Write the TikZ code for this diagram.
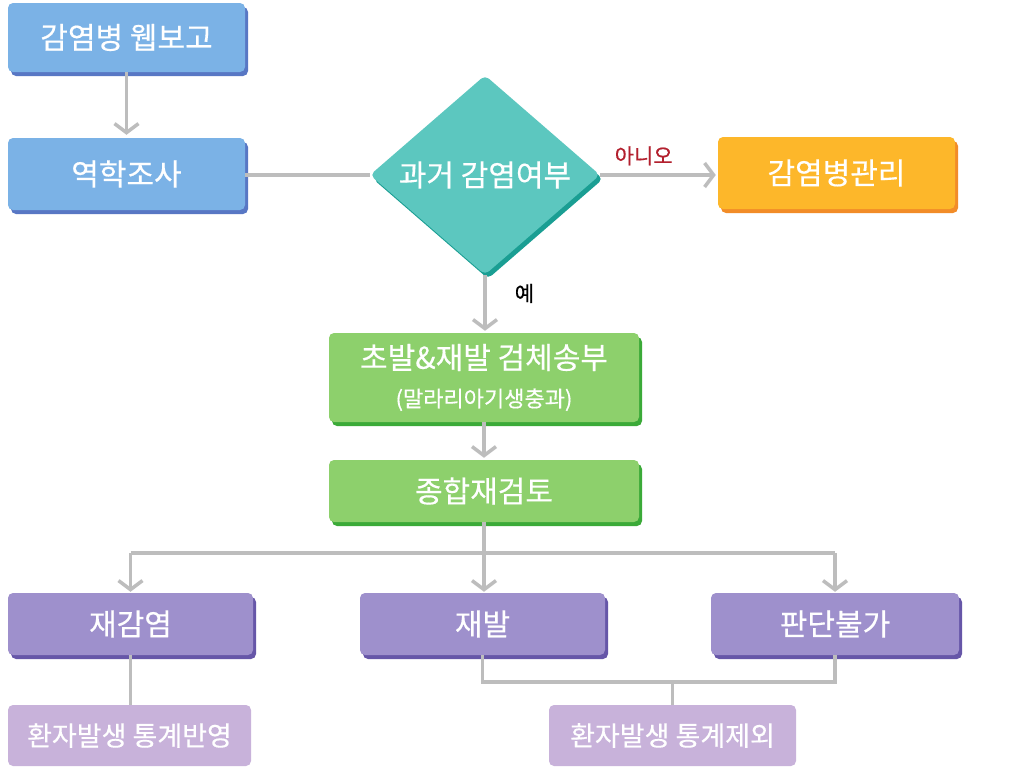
\documentclass[tikz,border=0pt]{standalone}
\usepackage{fontspec}
\setmainfont{Noto Sans CJK KR}[FakeBold=0.4]
\usetikzlibrary{shapes.geometric,arrows.meta,shadows}
\definecolor{bluef}{HTML}{7BB2E6}
\definecolor{blues}{HTML}{5877C4}
\definecolor{tealf}{HTML}{5CC7BF}
\definecolor{teals}{HTML}{1A9E93}
\definecolor{orangef}{HTML}{FDB72A}
\definecolor{oranges}{HTML}{F28C28}
\definecolor{greenf}{HTML}{8DD06C}
\definecolor{greens}{HTML}{3BAA38}
\definecolor{purpf}{HTML}{9E90CC}
\definecolor{purps}{HTML}{6656A8}
\definecolor{lpurp}{HTML}{C8B2DA}
\definecolor{linegrey}{HTML}{BDBDBD}
\definecolor{nored}{HTML}{B3202E}
\tikzset{
  box/.style={rectangle, rounded corners=5pt, text=white, inner sep=0pt, align=center,
    font=\fontsize{30}{34}\selectfont},
  sbox/.style 2 args={box, fill=#1,
    drop shadow={shadow xshift=3pt, shadow yshift=-4pt, fill=#2, opacity=1}},
  conn/.style={draw=linegrey, line width=3.5pt},
  arr/.style={conn, -{Straight Barb[length=9pt,width=24pt]}},
  lbl/.style={font=\fontsize{21}{24}\selectfont, inner sep=0pt}
}
\begin{document}
\begin{tikzpicture}[x=1pt,y=-1pt]
\useasboundingbox[fill=white] (0,0) rectangle (1023,771);
% nodes
\node[sbox={bluef}{blues}, minimum width=237pt, minimum height=69pt] (web) at (126.5,37.5) {감염병 웹보고};
\node[sbox={bluef}{blues}, minimum width=237pt, minimum height=72pt] (epi) at (126.5,174) {역학조사};
\node[diamond, fill=tealf, text=white, inner sep=0pt, minimum width=230pt, minimum height=188pt,
      rounded corners=5pt, font=\fontsize{30}{34}\selectfont,
      drop shadow={shadow xshift=3pt, shadow yshift=-4pt, fill=teals, opacity=1}] (dia) at (485,175) {과거 감염여부};
\node[sbox={orangef}{oranges}, minimum width=237pt, minimum height=72pt] (mgmt) at (836.5,173) {감염병관리};
\node[sbox={greenf}{greens}, minimum width=310pt, minimum height=89pt] (g1) at (484,377.5)
  {초발\&재발 검체송부\\[4pt]{\fontsize{22}{26}\selectfont (말라리아기생충과)}};
\node[sbox={greenf}{greens}, minimum width=310pt, minimum height=62pt] (g2) at (484,491) {종합재검토};
\node[sbox={purpf}{purps}, minimum width=245pt, minimum height=62pt] (reinf) at (130.5,624) {재감염};
\node[sbox={purpf}{purps}, minimum width=245pt, minimum height=62pt] (rel) at (482.5,624) {재발};
\node[sbox={purpf}{purps}, minimum width=248pt, minimum height=62pt] (und) at (835,624) {판단불가};
\node[box, fill=lpurp, minimum width=243pt, minimum height=61pt, font=\fontsize{27}{32}\selectfont] (st1) at (129.5,735.5) {환자발생 통계반영};
\node[box, fill=lpurp, minimum width=247pt, minimum height=61pt, font=\fontsize{27}{32}\selectfont] (st2) at (672.5,735.5) {환자발생 통계제외};
% coordinates
\coordinate (br) at (484,553);
\coordinate (mg) at (0,682);
% connectors
\draw[arr, shorten >=3pt] (web) -- (web |- epi.north);
\draw[conn] (epi.east |- dia.west) -- (dia.west);
\draw[arr, shorten >=2pt] (dia.east) -- (dia.east -| mgmt.west)
  node[lbl, text=nored, pos=0.37, above=8pt] (no) {아니오};
\draw[arr, shorten >=2pt] (dia.south) -- (dia.south |- g1.north)
  node[lbl, pos=0.32, right=28pt] (yes) {예};
\draw[arr, shorten >=2pt] (g1.south) -- (g1.south |- g2.north);
\draw[conn] (g2.south) -- (br);
\draw[conn] (reinf.north |- br) -- (und.north |- br);
\draw[arr, shorten >=1pt] (reinf.north |- br) -- (reinf.north);
\draw[arr, shorten >=1pt] (br) -- (br |- rel.north);
\draw[arr, shorten >=1pt] (und.north |- br) -- (und.north);
\draw[conn] (reinf.south) -- (reinf.south |- st1.north);
\draw[conn] (rel.south) -- (rel.south |- mg) -- (und.south |- mg) -- (und.south);
\draw[conn] (st2.north |- mg) -- (st2.north);
\end{tikzpicture}
\end{document}
